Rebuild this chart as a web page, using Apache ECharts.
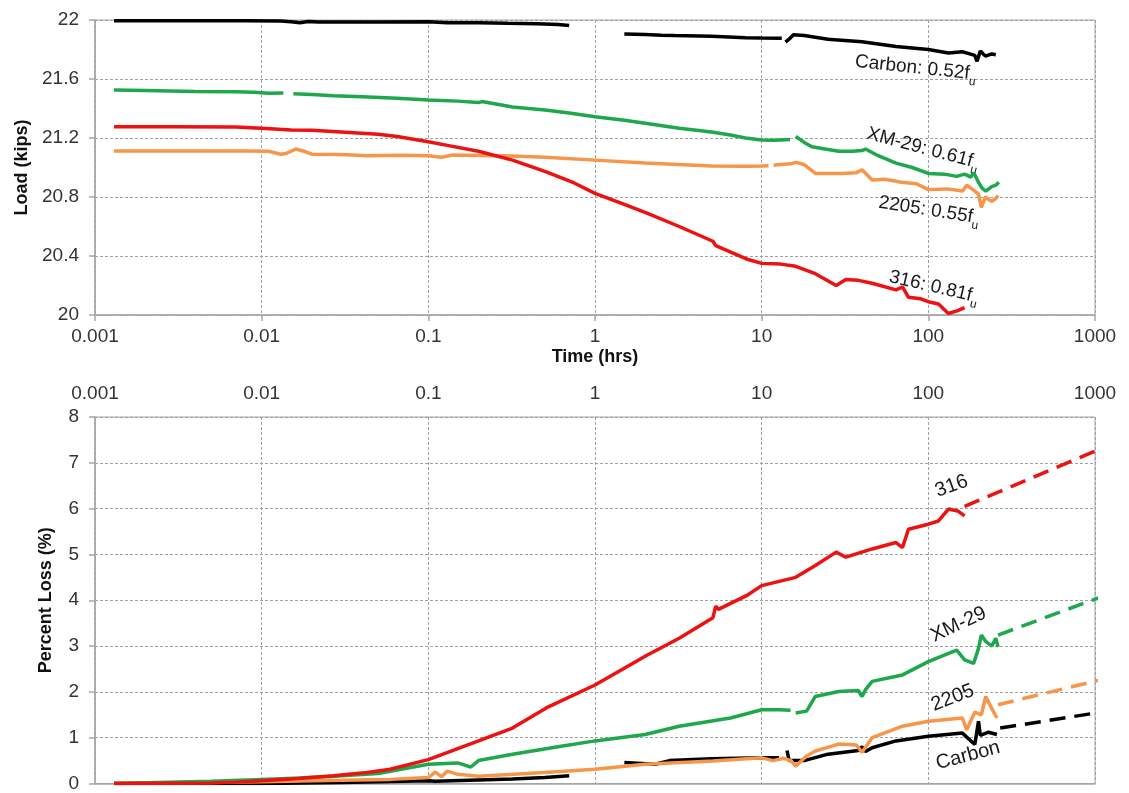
<!DOCTYPE html>
<html><head><meta charset="utf-8">
<script src="https://cdn.jsdelivr.net/npm/echarts@6/dist/echarts.min.js"></script>
<style>html,body{margin:0;padding:0;background:#fff}#c{width:1129px;height:793px}</style>
</head><body><div id="c"></div>
<script>
// ---------- Tick labels ----------
const timeTicks = [0.001, 0.01, 0.1, 1, 10, 100, 1000];
const timeTickLabels = ['0.001', '0.01', '0.1', '1', '10', '100', '1000'];

// ---------- Top panel: Load (kips) vs time (hrs) ----------
const carbonT = [0.0013, 0.004, 0.008, 0.013, 0.015, 0.017, 0.019, 0.022, 0.03, 0.05, 0.1, 0.13, 0.2, 0.3, 0.45, 0.6, 0.7, 1.0, 1.5, 2, 2.5, 3, 5, 8, 10, 13.2, 13.5, 13.9, 14.6, 15.5, 18, 25, 40, 64, 100, 132, 160, 175, 190, 196, 205, 220, 240, 254];
const carbonLoad = [21.995, 21.995, 21.995, 21.993, 21.988, 21.982, 21.99, 21.986, 21.987, 21.987, 21.988, 21.982, 21.982, 21.978, 21.975, 21.97, 21.962, '-', 21.905, 21.902, 21.897, 21.895, 21.89, 21.88, 21.878, 21.876, '-', 21.85, 21.87, 21.9, 21.895, 21.87, 21.853, 21.82, 21.80, 21.776, 21.785, 21.772, 21.76, 21.72, 21.79, 21.755, 21.77, 21.765];

const xm29T = [0.0013, 0.002, 0.004, 0.007, 0.009, 0.011, 0.0135, 0.0145, 0.0155, 0.02, 0.027, 0.04, 0.065, 0.1, 0.15, 0.2, 0.21, 0.32, 0.5, 0.7, 1, 1.5, 2, 3.2, 5, 6.5, 8, 10, 12, 14.8, 15.3, 16, 18, 20, 24, 29, 35, 40, 42, 50, 64, 80, 100, 125, 148, 165, 180, 187, 200, 210, 221, 240, 254, 265];
const xm29Load = [21.525, 21.522, 21.515, 21.513, 21.51, 21.503, 21.505, '-', 21.50, 21.495, 21.487, 21.48, 21.47, 21.458, 21.45, 21.44, 21.447, 21.41, 21.39, 21.37, 21.344, 21.32, 21.30, 21.266, 21.24, 21.22, 21.2, 21.186, 21.185, 21.19, '-', 21.21, 21.17, 21.14, 21.125, 21.11, 21.11, 21.115, 21.125, 21.08, 21.03, 21.0, 20.96, 20.955, 20.94, 20.955, 20.935, 20.965, 20.9, 20.86, 20.84, 20.87, 20.88, 20.9];

const d2205T = [0.0013, 0.004, 0.008, 0.011, 0.013, 0.014, 0.016, 0.018, 0.02, 0.03, 0.043, 0.07, 0.1, 0.12, 0.14, 0.2, 0.32, 0.5, 1, 2, 5, 8, 10, 11, 11.4, 11.8, 13, 15, 16, 18, 21, 30, 37, 40, 46, 55, 69, 85, 100, 130, 160, 170, 185, 200, 208, 220, 240, 254, 262];
const d2205Load = [21.112, 21.112, 21.112, 21.11, 21.09, 21.095, 21.125, 21.11, 21.09, 21.088, 21.08, 21.083, 21.08, 21.07, 21.085, 21.082, 21.078, 21.07, 21.05, 21.03, 21.01, 21.008, 21.01, 21.012, '-', 21.015, 21.02, 21.025, 21.035, 21.02, 20.96, 20.96, 20.965, 20.985, 20.915, 20.92, 20.90, 20.89, 20.85, 20.855, 20.84, 20.88, 20.85, 20.82, 20.73, 20.8, 20.77, 20.79, 20.81];

const s316T = [0.0013, 0.003, 0.007, 0.01, 0.015, 0.02, 0.03, 0.05, 0.065, 0.1, 0.13, 0.2, 0.32, 0.51, 0.75, 1, 1.5, 2.05, 3.2, 5.1, 5.3, 8.1, 10, 13, 16, 21, 28, 32, 38, 46, 64, 70, 76, 90, 100, 115, 132, 150, 165];
const s316Load = [21.277, 21.277, 21.275, 21.266, 21.255, 21.252, 21.24, 21.225, 21.21, 21.175, 21.15, 21.11, 21.05, 20.97, 20.895, 20.825, 20.75, 20.69, 20.60, 20.50, 20.47, 20.38, 20.35, 20.345, 20.33, 20.28, 20.20, 20.24, 20.235, 20.215, 20.17, 20.19, 20.12, 20.11, 20.09, 20.075, 20.01, 20.03, 20.05];

// ---------- Bottom panel: Percent loss (%) vs time (hrs) ----------
const s316LossT = [0.0013, 0.005, 0.007, 0.01, 0.015, 0.027, 0.043, 0.059, 0.1, 0.2, 0.32, 0.51, 1, 2.05, 3.2, 5.1, 5.3, 5.5, 8.1, 10, 16, 21, 28, 32, 46, 64, 70, 76, 100, 115, 132, 150, 165];
const s316Loss = [0, 0.01, 0.03, 0.06, 0.1, 0.17, 0.24, 0.31, 0.52, 0.93, 1.21, 1.65, 2.15, 2.8, 3.17, 3.62, 3.87, 3.8, 4.1, 4.32, 4.5, 4.76, 5.05, 4.94, 5.12, 5.26, 5.15, 5.55, 5.66, 5.73, 5.99, 5.95, 5.84];

const xm29LossT = [0.0013, 0.005, 0.01, 0.017, 0.027, 0.05, 0.1, 0.15, 0.18, 0.2, 0.32, 0.6, 1, 2, 3.2, 6.5, 10, 12.7, 14.9, 15.4, 16, 18.6, 21, 29, 38, 40, 42, 46, 70, 100, 148, 165, 187, 200, 208, 221, 240, 254, 262];
const xm29Loss = [0, 0.05, 0.09, 0.12, 0.16, 0.22, 0.42, 0.45, 0.36, 0.5, 0.64, 0.8, 0.93, 1.07, 1.25, 1.43, 1.61, 1.61, 1.6, '-', 1.54, 1.58, 1.9, 2.01, 2.03, 1.9, 2.05, 2.23, 2.37, 2.66, 2.91, 2.7, 2.62, 2.95, 3.24, 3.1, 3.0, 3.17, 2.98];

const d2205LossT = [0.0013, 0.01, 0.03, 0.059, 0.1, 0.11, 0.12, 0.13, 0.15, 0.2, 0.5, 1, 2, 5.1, 10, 11.7, 13.6, 15, 16, 18.6, 21, 29, 37, 40, 46, 70, 100, 160, 170, 190, 208, 221, 240, 258];
const d2205Loss = [0, 0.04, 0.07, 0.09, 0.13, 0.25, 0.15, 0.27, 0.2, 0.16, 0.24, 0.31, 0.42, 0.49, 0.56, 0.5, 0.55, 0.5, 0.38, 0.6, 0.71, 0.86, 0.84, 0.68, 1.0, 1.25, 1.36, 1.43, 1.17, 1.56, 1.5, 1.9, 1.64, 1.43];

const carbonLossT = [0.0013, 0.01, 0.03, 0.05, 0.1, 0.11, 0.32, 0.5, 0.7, 1.0, 1.5, 2.3, 2.8, 5, 10, 12.7, 13.5, 14.2, 14.6, 18, 25, 38, 40, 42, 46, 64, 100, 160, 190, 200, 205, 230, 258];
const carbonLoss = [0, 0.0, 0.02, 0.04, 0.06, 0.05, 0.1, 0.13, 0.17, '-', 0.46, 0.42, 0.5, 0.54, 0.56, 0.56, '-', 0.72, 0.5, 0.5, 0.64, 0.72, 0.8, 0.7, 0.78, 0.93, 1.03, 1.1, 0.85, 1.36, 1.05, 1.12, 1.07];

// Dashed projections
const s316ProjT = [165, 1100];   const s316Proj = [6.05, 7.32];
const xm29ProjT = [262, 1100];   const xm29Proj = [3.24, 4.08];
const d2205ProjT = [262, 1100];  const d2205Proj = [1.72, 2.27];
const carbonProjT = [270, 1100]; const carbonProj = [1.21, 1.56];

// Annotation texts and their anchor (data coordinates)
const topLabels = [
  {main: 'Carbon: 0.52f', sub: 'u', t: 84, v: 21.675, rot: -6},
  {main: 'XM-29: 0.61f', sub: 'u', t: 93, v: 21.13, rot: -15},
  {main: '2205: 0.55f', sub: 'u', t: 101, v: 20.71, rot: -9},
  {main: '316: 0.81f', sub: 'u', t: 108, v: 20.19, rot: -13}
];
const bottomLabels = [
  {main: '316', t: 138, v: 6.49, rot: 20},
  {main: 'XM-29', t: 152, v: 3.47, rot: 25},
  {main: '2205', t: 140, v: 1.87, rot: 21},
  {main: 'Carbon', t: 173, v: 0.61, rot: 15}
];

// ---------- Styles ----------
const COL = {carbon: '#000000', xm29: '#1ea84b', d2205: '#f7964a', s316: '#ee1111'};
const FONT = "'Liberation Sans', Arial, sans-serif";
const pairs = (t, v) => t.map((x, i) => [x, v[i]]);
const tickFmt = v => {
  let best = 0, bd = Infinity;
  timeTicks.forEach((tk, i) => { const d = Math.abs(Math.log10(v) - Math.log10(tk)); if (d < bd) { bd = d; best = i; } });
  return timeTickLabels[best];
};
const gridLine = {show: true, lineStyle: {type: [3, 2], color: '#a0a0a0', width: 1}};
const axLine = {show: true, lineStyle: {color: '#a6a6a6', width: 1.5}};
const axTick = {show: true, length: 6, lineStyle: {color: '#a6a6a6', width: 1.5}};
const lblStyle = {fontSize: 19, color: '#333', fontFamily: FONT};
const nameStyle = {fontSize: 18, fontWeight: 'bold', color: '#111', fontFamily: FONT};

function line(name, t, v, color, xi, opts) {
  return Object.assign({
    type: 'line', name, data: pairs(t, v), xAxisIndex: xi, yAxisIndex: xi,
    showSymbol: false, symbol: 'none', connectNulls: false, animation: false,
    lineStyle: {color, width: 3.5}, itemStyle: {color}
  }, opts || {});
}
function dline(name, t, v, color) {
  return line(name, t, v, color, 1, {clip: false, lineStyle: {color, width: 3.5, type: [16, 9]}});
}

const option = {
  backgroundColor: '#fff',
  animation: false,
  grid: [
    {left: 95, right: 34, top: 20, height: 295, show: true, borderColor: '#a6a6a6', borderWidth: 1},
    {left: 95, right: 34, top: 417, height: 369, show: true, borderColor: '#a6a6a6', borderWidth: 1}
  ],
  xAxis: [
    {type: 'log', logBase: 10, gridIndex: 0, min: 0.001, max: 1000, splitNumber: 6, position: 'bottom',
     axisLine: axLine, axisTick: axTick, splitLine: gridLine, minorTick: {show: false}, minorSplitLine: {show: false},
     axisLabel: Object.assign({margin: 12, formatter: tickFmt}, lblStyle),
     name: 'Time (hrs)', nameLocation: 'middle', nameGap: 33, nameTextStyle: nameStyle},
    {type: 'log', logBase: 10, gridIndex: 1, min: 0.001, max: 1000, splitNumber: 6, position: 'top',
     axisLine: axLine, axisTick: {show: false}, splitLine: gridLine, minorTick: {show: false}, minorSplitLine: {show: false},
     axisLabel: Object.assign({margin: 14, formatter: tickFmt}, lblStyle)}
  ],
  yAxis: [
    {type: 'value', gridIndex: 0, min: 20, max: 22, interval: 0.4,
     axisLine: axLine, axisTick: axTick, splitLine: gridLine,
     axisLabel: Object.assign({margin: 16, formatter: v => String(+v.toFixed(1))}, lblStyle),
     name: 'Load (kips)', nameLocation: 'middle', nameGap: 63, nameTextStyle: nameStyle},
    {type: 'value', gridIndex: 1, min: 0, max: 8, interval: 1,
     axisLine: axLine, axisTick: axTick, splitLine: gridLine,
     axisLabel: Object.assign({margin: 16}, lblStyle),
     name: 'Percent Loss (%)', nameLocation: 'middle', nameGap: 40, nameTextStyle: nameStyle}
  ],
  series: [
    line('Carbon', carbonT, carbonLoad, COL.carbon, 0),
    line('2205', d2205T, d2205Load, COL.d2205, 0),
    line('XM-29', xm29T, xm29Load, COL.xm29, 0),
    line('316', s316T, s316Load, COL.s316, 0),
    line('Carbon loss', carbonLossT, carbonLoss, COL.carbon, 1),
    line('2205 loss', d2205LossT, d2205Loss, COL.d2205, 1),
    line('XM-29 loss', xm29LossT, xm29Loss, COL.xm29, 1),
    line('316 loss', s316LossT, s316Loss, COL.s316, 1),
    dline('Carbon proj', carbonProjT, carbonProj, COL.carbon),
    dline('2205 proj', d2205ProjT, d2205Proj, COL.d2205),
    dline('XM-29 proj', xm29ProjT, xm29Proj, COL.xm29),
    dline('316 proj', s316ProjT, s316Proj, COL.s316)
  ]
};

const chart = echarts.init(document.getElementById('c'), null, {renderer: 'canvas'});
chart.setOption(option);

// ---------- Rotated annotations anchored in data coordinates ----------
const ctx = document.createElement('canvas').getContext('2d');
function textW(txt, font) { ctx.font = font; return ctx.measureText(txt).width; }
const graphics = [];
function addLabel(l, idx, size) {
  const p = chart.convertToPixel({xAxisIndex: idx, yAxisIndex: idx}, [l.t, l.v]);
  const mainFont = size + 'px ' + FONT;
  const subSize = Math.round(size * 0.65);
  const subFont = subSize + 'px ' + FONT;
  const wm = textW(l.main, mainFont);
  const ws = l.sub ? textW(l.sub, subFont) : 0;
  const W = wm + ws;
  const children = [{type: 'text', x: -W / 2, y: 0,
    style: {text: l.main, font: mainFont, fill: '#1a1a1a', align: 'left', verticalAlign: 'middle'}}];
  if (l.sub) children.push({type: 'text', x: -W / 2 + wm, y: size * 0.42,
    style: {text: l.sub, font: subFont, fill: '#1a1a1a', align: 'left', verticalAlign: 'middle'}});
  graphics.push({type: 'group', x: p[0], y: p[1], rotation: l.rot * Math.PI / 180, z: 100, children});
}
topLabels.forEach(l => addLabel(l, 0, 19));
bottomLabels.forEach(l => addLabel(l, 1, 20));
chart.setOption({graphic: graphics});
</script>
</body></html>
